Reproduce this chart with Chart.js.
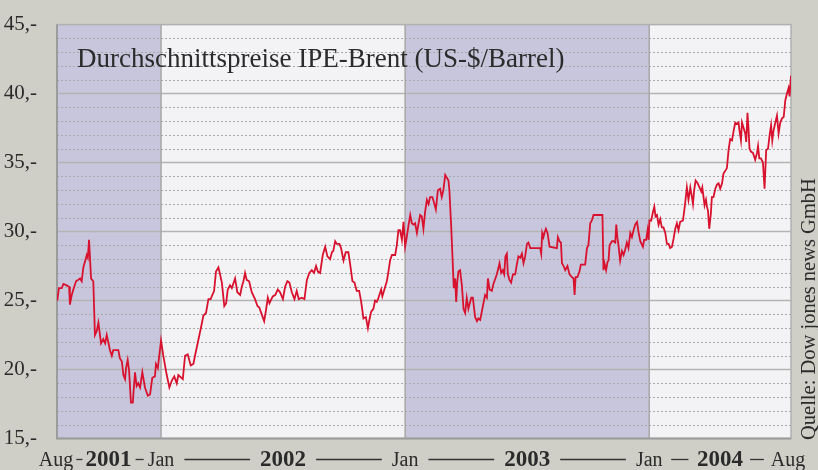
<!DOCTYPE html>
<html lang="de">
<head>
    <meta charset="UTF-8">
    <title>IPE-Brent</title>
    <script src="https://cdn.jsdelivr.net/npm/chart.js"></script>
    <style>
        body { margin: 0; background: #cfcfc7; }
        .chart-box { width: 818px; height: 470px; }
    </style>
</head>
<body>
    <div class="chart-box">
        <canvas id="brentChart"></canvas>
    </div>
    <script>
        // x = months since Jan 2001 (12 = Jan 2002), y = US-$ per barrel
        var months = [
            6.9, 6.98, 7.12, 7.20, 7.36, 7.48, 7.52, 7.61, 7.69, 7.82, 7.93, 8.02, 8.10, 8.18, 8.35, 8.40, 8.46, 8.56, 8.67, 8.75,
            8.84, 8.92, 9.05, 9.16, 9.25, 9.33, 9.49, 9.58, 9.65, 9.90, 9.98, 10.07, 10.15, 10.23, 10.28, 10.36, 10.43, 10.52, 10.61, 10.72,
            10.80, 10.88, 10.97, 11.08, 11.21, 11.35, 11.46, 11.57, 11.70, 11.75, 11.84, 12.00, 12.11, 12.28, 12.41, 12.53, 12.65, 12.77, 12.85, 13.07,
            13.18, 13.31, 13.46, 13.59, 13.67, 13.80, 14.00, 14.08, 14.21, 14.33, 14.44, 14.52, 14.61, 14.70, 14.82, 14.90, 14.99, 15.06, 15.11, 15.20,
            15.28, 15.39, 15.48, 15.64, 15.75, 15.89, 15.97, 16.05, 16.13, 16.21, 16.33, 16.46, 16.62, 16.74, 16.83, 16.95, 17.07, 17.16, 17.25, 17.33,
            17.49, 17.61, 17.74, 17.85, 17.99, 18.10, 18.21, 18.31, 18.43, 18.56, 18.67, 18.77, 18.92, 19.05, 19.17, 19.29, 19.41, 19.52, 19.62, 19.71,
            19.82, 19.95, 20.07, 20.18, 20.31, 20.40, 20.47, 20.56, 20.64, 20.77, 20.85, 20.97, 21.08, 21.21, 21.30, 21.41, 21.51, 21.62, 21.74, 21.84,
            21.95, 22.07, 22.17, 22.23, 22.33, 22.44, 22.52, 22.61, 22.69, 22.82, 22.88, 22.98, 23.10, 23.18, 23.26, 23.35, 23.51, 23.59, 23.67, 23.75,
            23.84, 23.92, 24.00, 24.08, 24.16, 24.25, 24.33, 24.41, 24.49, 24.58, 24.65, 24.74, 24.82, 24.90, 24.98, 25.07, 25.15, 25.23, 25.34, 25.44,
            25.51, 25.61, 25.72, 25.80, 25.88, 25.97, 26.05, 26.13, 26.18, 26.26, 26.33, 26.39, 26.46, 26.51, 26.56, 26.62, 26.70, 26.79, 26.87, 26.95,
            27.03, 27.11, 27.25, 27.33, 27.44, 27.53, 27.60, 27.69, 27.77, 27.85, 27.93, 28.02, 28.07, 28.15, 28.26, 28.34, 28.51, 28.64, 28.72, 28.80,
            28.87, 28.93, 29.00, 29.05, 29.13, 29.21, 29.30, 29.41, 29.49, 29.57, 29.66, 29.74, 29.82, 29.90, 29.99, 30.06, 30.15, 30.64, 30.69, 30.74,
            30.80, 30.85, 30.92, 31.00, 31.10, 31.46, 31.51, 31.59, 31.66, 31.71, 31.79, 31.87, 31.98, 32.08, 32.20, 32.28, 32.33, 32.38, 32.47, 32.57,
            32.64, 32.85, 32.94, 33.01, 33.10, 33.18, 33.26, 33.70, 33.75, 33.80, 33.88, 33.95, 34.00, 34.05, 34.17, 34.24, 34.33, 34.38, 34.44, 34.49,
            34.57, 34.66, 34.74, 34.82, 34.90, 34.98, 35.07, 35.15, 35.23, 35.31, 35.40, 35.47, 35.56, 35.69, 35.75, 35.85, 35.92, 35.97, 36.01, 36.10,
            36.18, 36.25, 36.31, 36.38, 36.46, 36.54, 36.62, 36.70, 36.79, 36.87, 36.95, 37.03, 37.12, 37.20, 37.28, 37.36, 37.44, 37.52, 37.66, 37.72,
            37.77, 37.85, 37.93, 38.02, 38.10, 38.15, 38.21, 38.28, 38.38, 38.47, 38.56, 38.61, 38.67, 38.72, 38.79, 38.84, 38.89, 38.95, 39.03, 39.08,
            39.16, 39.25, 39.33, 39.41, 39.49, 39.58, 39.65, 39.74, 39.82, 39.90, 39.98, 40.07, 40.15, 40.23, 40.31, 40.39, 40.44, 40.51, 40.56, 40.64,
            40.72, 40.77, 40.83, 40.88, 40.93, 41.00, 41.10, 41.21, 41.30, 41.35, 41.41, 41.49, 41.59, 41.67, 41.75, 41.84, 41.92, 41.99, 42.05, 42.11,
            42.20, 42.28, 42.36, 42.44, 42.53, 42.61, 42.69, 42.77, 42.85, 42.90, 42.97
        ];
        var brent = [
            25.0, 25.9, 25.9, 26.2, 26.1, 26.0, 24.7, 25.4, 25.8, 26.4, 26.5, 26.6, 26.4, 27.4, 28.3, 28.1, 29.4, 26.6, 26.4, 22.5,
            22.8, 23.4, 21.9, 22.2, 21.9, 22.5, 21.4, 21.0, 21.4, 21.4, 20.8, 20.6, 19.6, 19.3, 20.1, 20.7, 19.9, 17.6, 17.6, 19.8,
            18.8, 19.0, 18.7, 19.8, 18.7, 18.1, 18.2, 19.4, 19.5, 20.4, 20.1, 22.1, 21.0, 19.6, 18.7, 19.2, 19.5, 19.0, 19.6, 19.3,
            21.0, 21.1, 20.3, 20.4, 21.0, 21.9, 23.3, 23.9, 24.1, 25.1, 25.1, 25.4, 25.7, 27.1, 27.4, 26.9, 26.3, 25.3, 24.6, 24.8,
            25.8, 26.1, 25.9, 26.6, 25.6, 25.4, 26.0, 26.4, 27.0, 26.5, 26.4, 25.6, 25.1, 24.6, 24.5, 24.0, 23.5, 24.3, 25.2, 24.8,
            25.3, 25.4, 25.8, 25.6, 25.1, 26.0, 26.4, 26.3, 25.6, 25.1, 25.7, 25.1, 25.2, 25.1, 26.5, 27.0, 27.2, 27.0, 27.5, 27.1,
            27.0, 28.3, 28.9, 28.2, 28.0, 28.5, 28.6, 29.3, 29.1, 29.1, 28.8, 27.9, 28.5, 28.5, 27.6, 26.4, 26.3, 25.7, 25.7, 24.9,
            23.7, 23.8, 23.0, 23.5, 24.2, 24.4, 25.0, 24.9, 25.2, 25.8, 25.3, 25.8, 26.4, 27.1, 27.9, 28.3, 28.3, 29.0, 30.1, 30.1,
            29.4, 30.7, 28.9, 29.6, 30.4, 31.2, 30.6, 30.5, 30.6, 29.9, 30.5, 31.2, 31.1, 30.2, 31.4, 32.3, 32.0, 32.5, 32.5, 32.0,
            31.6, 33.0, 33.1, 32.5, 33.0, 34.1, 33.9, 33.7, 32.9, 30.5, 28.1, 25.9, 26.6, 24.9, 26.3, 27.1, 27.2, 26.1, 24.4, 24.1,
            25.2, 24.4, 25.2, 25.2, 23.8, 23.5, 23.7, 23.6, 24.2, 24.8, 25.4, 25.2, 26.6, 25.8, 25.7, 26.2, 26.9, 27.7, 27.0, 27.2,
            26.9, 28.2, 28.4, 26.9, 26.5, 26.3, 26.9, 26.9, 27.6, 28.2, 28.1, 28.4, 27.7, 28.2, 29.1, 29.2, 28.8, 28.8, 28.4, 29.9,
            29.6, 29.9, 30.2, 29.9, 28.9, 28.8, 29.6, 29.3, 29.2, 27.7, 27.5, 27.2, 27.5, 26.9, 26.7, 26.6, 25.4, 26.7, 26.7, 27.1,
            27.6, 27.6, 28.8, 29.0, 30.6, 30.8, 31.2, 31.2, 27.2, 27.7, 27.2, 27.8, 27.9, 29.0, 29.3, 29.3, 29.2, 30.5, 29.5, 29.0,
            27.9, 28.6, 28.3, 28.7, 29.2, 28.8, 29.9, 29.6, 30.1, 30.5, 30.7, 30.0, 29.3, 28.9, 29.4, 29.4, 30.1, 29.4, 30.8, 30.8,
            31.4, 31.8, 31.1, 31.2, 30.5, 30.9, 30.3, 30.3, 29.9, 29.1, 29.1, 28.8, 28.9, 29.5, 30.2, 30.6, 30.1, 30.7, 30.8, 31.5,
            32.1, 33.2, 32.3, 33.2, 32.5, 32.0, 33.0, 33.7, 33.5, 33.2, 32.9, 33.2, 32.5, 31.9, 32.3, 31.8, 31.5, 30.2, 31.3, 32.5,
            32.5, 33.1, 33.4, 33.5, 33.1, 33.5, 34.2, 34.4, 34.6, 35.9, 36.7, 36.6, 37.3, 37.9, 37.8, 37.9, 37.3, 36.6, 37.9, 37.5,
            37.1, 36.5, 38.6, 37.5, 36.0, 35.8, 35.7, 35.2, 35.7, 36.2, 35.3, 35.3, 35.0, 33.1, 35.9, 36.0, 37.0, 37.7, 36.6, 37.3,
            37.9, 38.4, 37.1, 37.9, 38.2, 38.3, 39.5, 40.0, 40.4, 39.8, 41.3
        ];
        var yTicks = [15, 20, 25, 30, 35, 40, 45];
        var boundaries = [6.885, 12, 24, 36, 42.97];  // Aug 01, Jan 02, Jan 03, Jan 04, Aug 04
        var monthLabels = ['Aug', 'Jan', 'Jan', 'Jan', 'Aug'];
        var yearLabels = ['2001', '2002', '2003', '2004'];
        var shadedYears = [[6.885, 12], [24, 36]];

        var serif = '"Liberation Serif", "DejaVu Serif", serif';

        var points = months.map(function (m, i) { return { x: m, y: brent[i] }; });

        var decor = {
            id: 'decor',
            beforeDraw: function (chart) {
                var ctx = chart.ctx;
                ctx.save();
                ctx.fillStyle = '#cfcfc7';
                ctx.fillRect(0, 0, chart.width, chart.height);
                ctx.restore();
            },
            beforeDatasetsDraw: function (chart) {
                var ctx = chart.ctx, a = chart.chartArea;
                var xs = chart.scales.x, ys = chart.scales.y;
                ctx.save();
                ctx.fillStyle = '#f3f3f5';
                ctx.fillRect(a.left, a.top, a.right - a.left, a.bottom - a.top);

                ctx.fillStyle = '#c8c6dc';
                shadedYears.forEach(function (b) {
                    var x1 = xs.getPixelForValue(b[0]), x2 = xs.getPixelForValue(b[1]);
                    ctx.fillRect(x1, a.top, x2 - x1, a.bottom - a.top);
                });

                // dotted lines every dollar
                ctx.strokeStyle = '#a9a9a9';
                ctx.lineWidth = 1;
                ctx.setLineDash([2, 2]);
                for (var v = 16; v < 45; v++) {
                    if (v % 5 === 0) continue;
                    var y = Math.round(ys.getPixelForValue(v)) + 0.5;
                    ctx.beginPath(); ctx.moveTo(a.left, y); ctx.lineTo(a.right, y); ctx.stroke();
                }
                ctx.setLineDash([]);

                // solid lines at the labelled values
                ctx.strokeStyle = '#b3b3b3';
                ctx.lineWidth = 1.5;
                yTicks.forEach(function (t) {
                    if (t === 15 || t === 45) return;
                    var y = ys.getPixelForValue(t);
                    ctx.beginPath(); ctx.moveTo(a.left, y); ctx.lineTo(a.right, y); ctx.stroke();
                });

                // year separators
                ctx.strokeStyle = '#a8a8a8';
                [12, 24, 36].forEach(function (m) {
                    var x = xs.getPixelForValue(m);
                    ctx.beginPath(); ctx.moveTo(x, a.top); ctx.lineTo(x, a.bottom); ctx.stroke();
                });

                // frame
                ctx.strokeStyle = '#b0b0b0';
                ctx.lineWidth = 1.5;
                ctx.strokeRect(a.left, a.top, a.right - a.left, a.bottom - a.top);
                ctx.strokeStyle = '#9c9c9c';
                ctx.lineWidth = 2;
                ctx.beginPath();
                ctx.moveTo(a.left, a.top); ctx.lineTo(a.left, a.bottom); ctx.lineTo(a.right, a.bottom);
                ctx.stroke();
                ctx.restore();
            },
            afterDraw: function (chart) {
                var ctx = chart.ctx, a = chart.chartArea;
                var xs = chart.scales.x;
                ctx.save();
                ctx.fillStyle = '#2b2b2b';
                ctx.textBaseline = 'alphabetic';

                // title
                ctx.font = '27px ' + serif;
                ctx.textAlign = 'left';
                ctx.fillText('Durchschnittspreise IPE-Brent (US-$/Barrel)', 77, 67);

                // time axis: month at each boundary, year centred between
                var base = 466;
                var items = [];
                ctx.textAlign = 'center';
                for (var i = 0; i < boundaries.length; i++) {
                    var bx = xs.getPixelForValue(boundaries[i]);
                    if (i === 0) bx = a.left - 1;
                    if (i === boundaries.length - 1) bx = a.right - 3;
                    ctx.font = '20px ' + serif;
                    var w = ctx.measureText(monthLabels[i]).width;
                    ctx.fillText(monthLabels[i], bx, base);
                    items.push([bx - w / 2, bx + w / 2]);
                    if (i < yearLabels.length) {
                        var nx = xs.getPixelForValue(boundaries[i + 1]);
                        var cx = (bx + nx) / 2;
                        ctx.font = 'bold 23px ' + serif;
                        var yw = ctx.measureText(yearLabels[i]).width;
                        ctx.fillText(yearLabels[i], cx, base);
                        items.push([cx - yw / 2, cx + yw / 2]);
                    }
                }
                ctx.strokeStyle = '#333';
                ctx.lineWidth = 1.3;
                for (var j = 0; j < items.length - 1; j++) {
                    var s = items[j][1], e = items[j + 1][0];
                    var gap = Math.min(10, (e - s) * 0.25);
                    ctx.beginPath();
                    ctx.moveTo(s + gap, base - 6.5);
                    ctx.lineTo(e - gap, base - 6.5);
                    ctx.stroke();
                }

                // source note
                ctx.translate(815, 440);
                ctx.rotate(-Math.PI / 2);
                ctx.textAlign = 'left';
                ctx.font = '20.5px ' + serif;
                ctx.fillText('Quelle: Dow jones news GmbH', 0, 0);
                ctx.restore();
            }
        };

        var ctxBrent = document.getElementById('brentChart').getContext('2d');
        var brentChart = new Chart(ctxBrent, {
            type: 'line',
            data: {
                datasets: [{
                    label: 'IPE-Brent',
                    data: points,
                    borderColor: '#d8122e',
                    borderWidth: 1.8,
                    pointRadius: 0,
                    tension: 0,
                    fill: false
                }]
            },
            options: {
                responsive: true,
                maintainAspectRatio: false,
                animation: false,
                layout: { padding: { top: 24, right: 27, bottom: 31.5, left: 0 } },
                plugins: {
                    legend: { display: false },
                    tooltip: { enabled: false }
                },
                scales: {
                    x: {
                        type: 'linear',
                        min: boundaries[0],
                        max: boundaries[boundaries.length - 1],
                        display: false
                    },
                    y: {
                        min: 15,
                        max: 45,
                        afterFit: function (scale) { scale.width = 57; },
                        afterBuildTicks: function (scale) {
                            scale.ticks = yTicks.map(function (t) { return { value: t }; });
                        },
                        grid: { display: false },
                        border: { display: false },
                        ticks: {
                            padding: 12,
                            color: '#2b2b2b',
                            font: { family: serif, size: 21 },
                            callback: function (v) { return v + ',-'; }
                        }
                    }
                }
            },
            plugins: [decor]
        });
    </script>
</body>
</html>
